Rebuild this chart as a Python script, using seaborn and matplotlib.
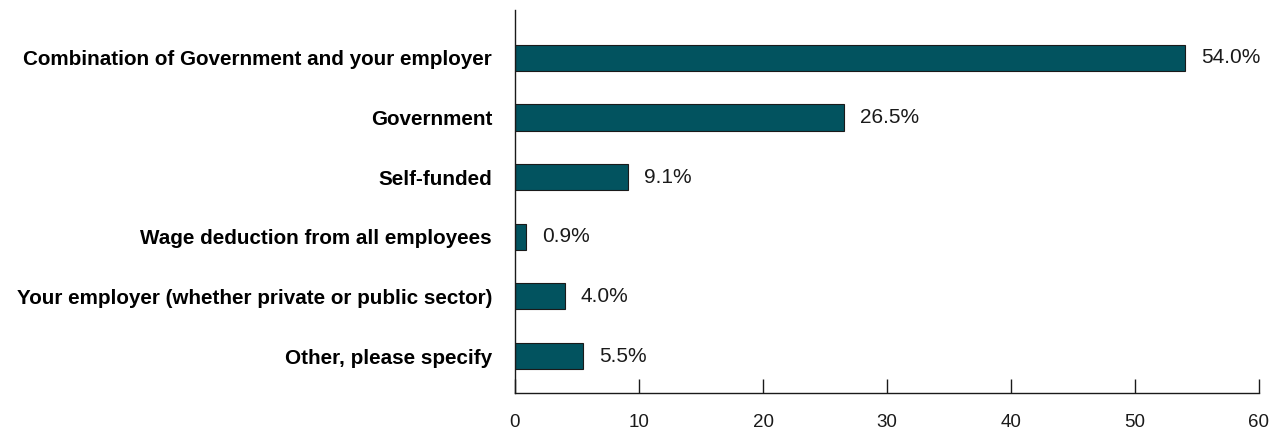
import matplotlib
matplotlib.use("Agg")
import matplotlib.pyplot as plt
import seaborn as sns
import pandas as pd

categories = [
    "Combination of Government and your employer",
    "Government",
    "Self-funded",
    "Wage deduction from all employees",
    "Your employer (whether private or public sector)",
    "Other, please specify",
]
values = [54.0, 26.5, 9.1, 0.9, 4.0, 5.5]
x_ticks = [0, 10, 20, 30, 40, 50, 60]

df = pd.DataFrame({"source": categories, "pct": values})

sns.set_theme(style="white")
plt.rcParams["font.family"] = ["Liberation Sans", "DejaVu Sans"]

fig = plt.figure(figsize=(12.77, 4.30), dpi=100)
ax = fig.add_axes([515 / 1277, 37 / 430, 744 / 1277, 383 / 430])

sns.barplot(data=df, x="pct", y="source", order=categories, color="#02535f",
            saturation=1, width=0.44, edgecolor="#1a1a1a", linewidth=0.8, ax=ax)

for i, v in enumerate(values):
    ax.text(v + 1.3, i, f"{v:.1f}%", va="center", ha="left", fontsize=15,
            color="#1a1a1a")

ax.set_xlim(0, 60)
ax.set_ylim(5.62, -0.8)
ax.set_xticks(x_ticks)
ax.set_xticklabels([str(t) for t in x_ticks], fontsize=13.5, color="#1a1a1a")
ax.tick_params(axis="x", bottom=True, direction="in", length=10, width=1,
               color="#1a1a1a", pad=15)
ax.tick_params(axis="y", left=False, length=0, pad=16.5)
for lbl in ax.get_yticklabels():
    lbl.set_fontweight("bold")
    lbl.set_fontsize(14.9)
    lbl.set_color("black")
ax.set_xlabel("")
ax.set_ylabel("")
for side in ["top", "right"]:
    ax.spines[side].set_visible(False)
for side in ["left", "bottom"]:
    ax.spines[side].set_color("#1a1a1a")
    ax.spines[side].set_linewidth(1)

fig.savefig("out.png", dpi=100)
